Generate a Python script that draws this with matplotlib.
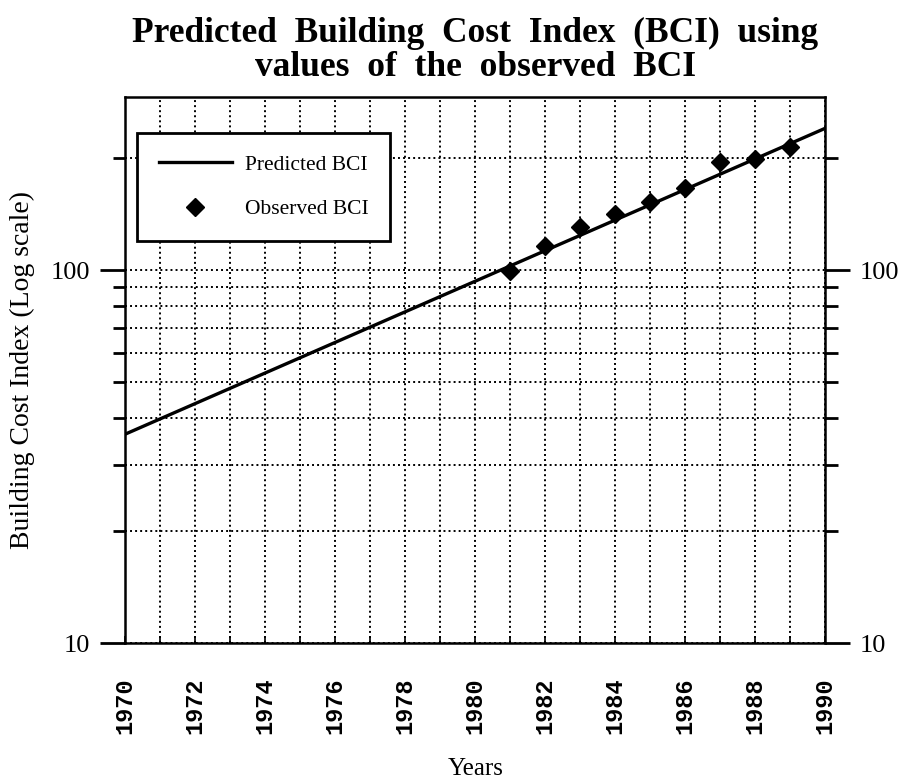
import numpy as np
import matplotlib
matplotlib.use("Agg")
import matplotlib.pyplot as plt
from matplotlib.ticker import FixedLocator, NullFormatter, FuncFormatter

# ______________________________________________________________________________
# Donnees

# Droite predite (extremites)
pred_years = [1970, 1990]
pred_bci = [36.3, 240.0]

# Points observes
obs_years = [1981, 1982, 1983, 1984, 1985, 1986, 1987, 1988, 1989]
obs_bci = [99.3, 115.9, 130.2, 141.2, 151.9, 166.2, 195.0, 198.5, 214.0]

xtick_years = list(range(1970, 1991, 2))
xminor_years = list(range(1970, 1991))
ymajor = [10, 100]
yminor = [20, 30, 40, 50, 60, 70, 80, 90, 200]

# ______________________________________________________________________________
# RCParams

plt.rcParams['font.family'] = 'Liberation Serif'
plt.rcParams['axes.linewidth'] = 1.8
plt.rcParams['figure.facecolor'] = 'w'

fig = plt.figure(figsize=(9, 7.8), dpi=100)
ax = fig.add_axes([0.139, 0.1756, 0.778, 0.7])

ax.plot(pred_years, pred_bci, color='k', lw=2.4, label='Predicted BCI')
ax.plot(obs_years, obs_bci, ls='none', marker='D', ms=9, color='k',
        label='Observed BCI')

ax.set_yscale('log')
ax.set_xlim(1970, 1990)
ax.set_ylim(10, 291)

ax.xaxis.set_major_locator(FixedLocator(xtick_years))
ax.xaxis.set_minor_locator(FixedLocator(xminor_years))
ax.yaxis.set_major_locator(FixedLocator(ymajor))
ax.yaxis.set_minor_locator(FixedLocator(yminor))
ax.yaxis.set_major_formatter(FuncFormatter(lambda v, p: "%d" % v))
ax.yaxis.set_minor_formatter(NullFormatter())

ax.grid(True, which='both', color='k', ls=(0, (1, 1.6)), lw=1.4)

ax.tick_params(axis='x', which='both', direction='in', length=5, width=1.2,
               top=False, pad=25)
ax.tick_params(axis='y', which='major', direction='out', length=18, width=2,
               left=True, right=True, labelleft=True, labelright=True,
               labelsize=19, pad=7)
ax.tick_params(axis='y', which='minor', direction='out', length=9, width=2,
               left=True, right=True)

for lab in ax.get_xticklabels():
    lab.set_rotation(90)
    lab.set_fontfamily('Liberation Mono')
    lab.set_fontsize(17)
    lab.set_fontweight('bold')

ax.set_xlabel('Years', fontsize=18, labelpad=17)
ax.set_ylabel('Building Cost Index (Log scale)', fontsize=20, va='center')
ax.yaxis.set_label_coords(-0.147, 0.5)

ax.set_title('Predicted  Building  Cost  Index  (BCI)  using\nvalues  of  the  observed  BCI',
             fontsize=25.5, fontweight='bold', linespacing=1.05, pad=15)

leg = ax.legend(loc='upper left', bbox_to_anchor=(0.017, 0.934), fontsize=15.5,
                handlelength=3.4, handletextpad=0.6, labelspacing=1.15,
                borderpad=1.0, borderaxespad=0, fancybox=False, framealpha=1)
leg.get_frame().set_edgecolor('k')
leg.get_frame().set_linewidth(2)

fig.savefig('out.png', dpi=100)
